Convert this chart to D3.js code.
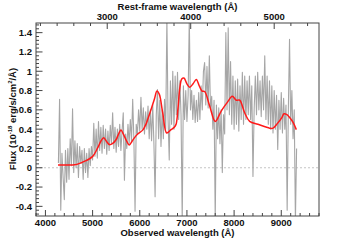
<!DOCTYPE html>
<html><head><meta charset="utf-8">
<script src="https://cdn.jsdelivr.net/npm/d3@7"></script>
<style>
html,body{margin:0;padding:0;background:#fff;}
text{font-family:"Liberation Sans",Arial,sans-serif;font-weight:bold;fill:#111;}
</style></head>
<body><svg id="c" width="355" height="240"></svg>
<script>
// ---- data ----
const specStart = 4275, specStep = 25; // observed wavelength grid (Å)
const specFlux = [
 0.05, 0.71, -0.44, 0.15, -0.10, -0.33, 0.18, -0.15,
 0.20, -0.12, 0.30, 0.02, 0.61, -0.05, 0.28, 0.00,
 0.25, -0.10, 0.22, 0.05, 0.18, -0.12, 0.20, -0.05,
 0.15, -0.10, 0.20, 0.02, 0.22, 0.08, 0.46, 0.12,
 0.40, 0.10, 0.48, 0.18, 0.42, 0.15, 0.44, 0.20,
 0.40, 0.14, 0.38, 0.18, 0.44, 0.25, 0.57, 0.20,
 0.42, 0.16, 0.40, 0.22, 0.45, 0.18, 0.38, 0.57,
 -0.13, 0.35, 0.20, 0.45, 0.25, 0.50, 0.28, 0.71,
 0.30, -0.45, 0.45, 0.35, 0.60, 0.38, 0.73, 0.40,
 0.62, 0.35, 0.58, 0.40, 0.64, 0.30, 0.60, 0.28,
 0.65, 0.25, -0.30, 0.55, 0.81, 0.30, 0.70, 0.22,
 0.60, 0.30, 0.71, 0.40, 1.55, 0.50, 0.08, 0.90,
 0.45, 1.00, 0.40, 0.95, 0.55, 0.99, 0.50, 0.90,
 0.55, -0.55, 0.85, 0.50, 0.80, 0.48, 0.75, 1.55,
 0.60, 0.80, 0.50, 0.75, 0.47, 0.70, 0.48, 0.78,
 0.50, 0.85, 0.60, 1.00, 1.09, 0.65, 1.05, 0.62,
 1.16, 0.60, 0.74, 0.40, 0.70, -0.55, 0.65, 0.30,
 0.62, 0.25, 0.60, -0.05, 0.55, 0.35, 1.40, 0.60,
 1.45, 0.55, 1.10, 0.45, 0.95, 0.40, 0.90, 0.45,
 0.92, 0.38, 0.85, 0.50, 0.99, 0.45, 0.95, 0.50,
 0.90, 0.55, 0.95, 0.50, 0.85, -0.09, 0.60, 0.95,
 0.55, 0.99, 0.60, 0.90, 0.53, 0.95, 0.60, 1.16,
 0.50, 0.95, 0.45, 0.90, 0.40, 0.85, 0.36, 0.80,
 0.40, 0.75, 0.19, 0.70, 0.40, 0.78, 0.36, 0.72,
 0.40, 0.65, -0.44, 0.60, 1.33, 0.45, 0.80, 0.30,
 0.60, -0.55, 0.20
];
const modelWave = [4266,4450,4612,4750,4860,5002,5107,5180,5235,5300,5355,5420,5496,5560,5602,5650,5708,5779,5830,5885,5956,6062,6130,6203,6309,6365,6415,6486,6571,6663,6732,6770,6811,6850,6890,6937,7000,7058,7130,7198,7260,7319,7376,7482,7601,7729,7860,7962,8046,8118,8224,8330,8506,8754,8825,8920,9012,9058,9120,9178,9250,9319];
const modelFlux = [0.028,0.028,0.030,0.05,0.073,0.118,0.205,0.28,0.31,0.27,0.24,0.25,0.29,0.36,0.39,0.35,0.29,0.236,0.27,0.31,0.35,0.39,0.45,0.55,0.71,0.795,0.76,0.57,0.36,0.395,0.42,0.45,0.62,0.83,0.92,0.93,0.87,0.835,0.87,0.915,0.85,0.795,0.79,0.64,0.48,0.59,0.68,0.74,0.70,0.70,0.57,0.48,0.45,0.41,0.41,0.46,0.52,0.56,0.55,0.52,0.47,0.395];
const redshift = 0.77;
const obsTicks = [4000,5000,6000,7000,8000,9000];
const restTicks = [3000,4000,5000];
const yTicks = [-0.4,-0.2,0,0.2,0.4,0.6,0.8,1,1.2,1.4];

// ---- layout ----
const L=36,R=319,T=23,B=216;
const svg=d3.select("#c");
const x=d3.scaleLinear().domain([3800,9800]).range([L,R]);
const y=d3.scaleLinear().domain([-0.5,1.5]).range([B,T]);
const xr=d3.scaleLinear().domain([3800/(1+redshift),9800/(1+redshift)]).range([L,R]);

svg.append("clipPath").attr("id","clip").append("rect").attr("x",L).attr("y",T).attr("width",R-L).attr("height",B-T);
const g=svg.append("g").attr("clip-path","url(#clip)");

// zero line
g.append("line").attr("x1",L).attr("x2",R).attr("y1",y(0)).attr("y2",y(0))
 .attr("stroke","#c4c4c4").attr("stroke-width",1).attr("stroke-dasharray","2,2");

const spec=specFlux.map((f,i)=>[specStart+i*specStep,f]);
g.append("path").datum(spec).attr("fill","none").attr("stroke","#a6a6a6").attr("stroke-width",1.1)
 .attr("stroke-linejoin","round")
 .attr("d",d3.line().x(d=>x(d[0])).y(d=>y(d[1])));

const model=modelWave.map((w,i)=>[w,modelFlux[i]]);
g.append("path").datum(model).attr("fill","none").attr("stroke","#ff1a1a").attr("stroke-width",1.5)
 .attr("d",d3.line().curve(d3.curveCatmullRom.alpha(0.5)).x(d=>x(d[0])).y(d=>y(d[1])));

// frame
svg.append("rect").attr("x",L).attr("y",T).attr("width",R-L).attr("height",B-T)
 .attr("fill","none").attr("stroke","#444").attr("stroke-width",1);

const ax=svg.append("g").attr("stroke","#444").attr("stroke-width",1);
// bottom ticks
d3.range(3800,9801,200).forEach(v=>{
  const major=obsTicks.includes(v);
  ax.append("line").attr("x1",x(v)).attr("x2",x(v)).attr("y1",B).attr("y2",B-(major?6:3));
});
// top ticks (rest frame)
d3.range(2200,5601,200).forEach(v=>{
  if(xr(v)<L||xr(v)>R) return;
  const major=restTicks.includes(v);
  ax.append("line").attr("x1",xr(v)).attr("x2",xr(v)).attr("y1",T).attr("y2",T+(major?6:3));
});
// left ticks
d3.range(-0.48,1.5,0.04).forEach(v=>{
  const major=yTicks.some(t=>Math.abs(t-v)<1e-6);
  ax.append("line").attr("x1",L).attr("x2",L+(major?6.5:3)).attr("y1",y(v)).attr("y2",y(v));
});

const fs=9.5;
svg.selectAll(".xl").data(obsTicks).enter().append("text").attr("x",d=>x(d)).attr("y",226)
 .attr("text-anchor","middle").attr("font-size",fs).text(d=>d);
svg.selectAll(".rl").data(restTicks).enter().append("text").attr("x",d=>xr(d)).attr("y",19.5)
 .attr("text-anchor","middle").attr("font-size",fs).text(d=>d);
svg.selectAll(".yl").data(yTicks).enter().append("text").attr("x",32).attr("y",d=>y(d)+3.4)
 .attr("text-anchor","end").attr("font-size",fs).text(d=>String(+d.toFixed(1)));

svg.append("text").attr("x",(L+R)/2).attr("y",236).attr("text-anchor","middle").attr("font-size",fs).text("Observed wavelength (Å)");
svg.append("text").attr("x",(L+R)/2).attr("y",10).attr("text-anchor","middle").attr("font-size",fs).text("Rest-frame wavelength (Å)");

const yt=svg.append("text").attr("transform","translate(16,119) rotate(-90)").attr("text-anchor","middle").attr("font-size",fs);
yt.append("tspan").text("Flux (10");
yt.append("tspan").attr("font-size",6).attr("dy",-4).text("-18");
yt.append("tspan").attr("dy",4).text(" erg/s/cm");
yt.append("tspan").attr("font-size",6).attr("dy",-4).text("2");
yt.append("tspan").attr("dy",4).text("/Å)");
</script></body></html>
